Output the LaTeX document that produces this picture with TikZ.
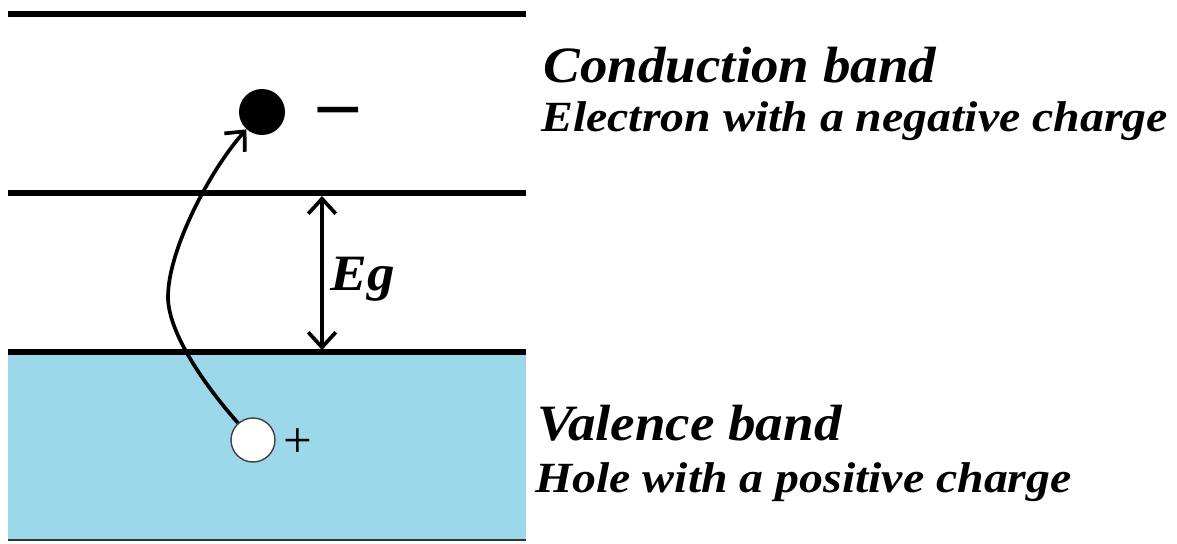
\documentclass[tikz,border=0pt]{standalone}
\usepackage{fontspec}
\setmainfont{Liberation Serif}
\newfontfamily\bigfont[FakeStretch=1.08]{Liberation Serif}
\newfontfamily\smallfont[FakeStretch=1.11]{Liberation Serif}
\usetikzlibrary{arrows.meta, positioning}

\definecolor{valblue}{RGB}{155,217,234}

\begin{document}
\begin{tikzpicture}[x=0.02cm, y=-0.02cm,
  band/.style={line width=3.4pt, line cap=butt},
  bigtxt/.style={anchor=base west, inner sep=0pt, font=\bigfont\fontsize{29}{31}\selectfont\bfseries\itshape},
  smalltxt/.style={anchor=base west, inner sep=0pt, font=\smallfont\fontsize{24.5}{26}\selectfont\bfseries\itshape},
  barb/.style={line width=2.1pt, arrows={-Straight Barb[length=3mm, width=5.5mm]}}]
\useasboundingbox (0,0) rectangle (1177,544);
% valence band fill
\fill [valblue] (8,352) rectangle (526,540);
\draw [line width=1.2pt, black!80] (8,540) -- (526,540);
% band edges
\draw [band] (8,14) -- (526,14);
\draw [band] (8,193) -- (526,193);
\draw [band] (8,352) -- (526,352);
% carriers
\node (elec) at (262,112) [circle, fill=black, minimum size=0.92cm, inner sep=0pt] {};
\node (minus) at (338,118) [inner sep=0pt, font=\fontsize{45}{45}\selectfont\bfseries] {--};
\node (hole) at (253,440) [circle, draw=black!75, line width=0.8pt, fill=white, minimum size=0.88cm, inner sep=0pt] {};
\node (plus) at (298,443) [inner sep=0pt, font=\fontsize{29}{30}\selectfont] {+};
% excitation
\coordinate (bend) at (168,297);
\draw [barb] (hole) .. controls (200,380) and (168,330) .. (bend)
  .. controls (168,250) and (210,170) .. (elec);
% band gap
\coordinate (gtop) at (322,196);
\coordinate (gbot) at (322,350);
\draw [barb, arrows={Straight Barb[length=3mm, width=5.5mm]-Straight Barb[length=3mm, width=5.5mm]}] (gtop) -- (gbot);
\node (eg) at (330,290) [bigtxt] {Eg};
% labels
\node (cb) at (543,83) [bigtxt] {Conduction band};
\node (cbsub) at (541,132) [smalltxt] {Electron with a negative charge};
\node (vb) at (537,440) [bigtxt] {Valence band};
\node (vbsub) at (535,492) [smalltxt] {Hole with a positive charge};
\end{tikzpicture}
\end{document}
